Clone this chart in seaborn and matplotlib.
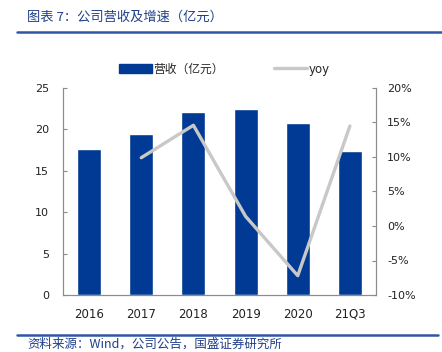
import matplotlib
matplotlib.use('Agg')
import matplotlib.pyplot as plt
import seaborn as sns
import pandas as pd
from matplotlib.lines import Line2D
from matplotlib.patches import Patch
from matplotlib.ticker import FuncFormatter, FixedLocator

# ==== data ====
years = ['2016', '2017', '2018', '2019', '2020', '21Q3']
revenue = [17.6, 19.4, 22.1, 22.5, 20.8, 17.4]
yoy_years = ['2017', '2018', '2019', '2020', '21Q3']
yoy = [9.9, 14.6, 1.4, -7.2, 14.5]

title_text = '图表 7：公司营收及增速（亿元）'
source_text = '资料来源：Wind，公司公告，国盛证券研究所'

sns.set_style('white')
plt.rcParams['font.family'] = ['DejaVu Sans', 'Noto Sans CJK SC']

bar_color = '#003A94'
line_color = '#C8C8C8'
text_blue = '#1F3F8A'

df_rev = pd.DataFrame({'year': years, 'revenue': revenue})
df_yoy = pd.DataFrame({'year': yoy_years, 'yoy': yoy})

fig = plt.figure(figsize=(4.42, 3.52), dpi=100)
ax = fig.add_axes([63 / 442, 1 - 295 / 352, 313 / 442, 207 / 352])

sns.barplot(data=df_rev, x='year', y='revenue', color=bar_color, width=0.46,
            saturation=1, ax=ax)
ax.set_xlim(-0.5, 5.5)
ax.set_ylim(0, 25)
ax.set_yticks([0, 5, 10, 15, 20, 25])
ax.set_xlabel('')
ax.set_ylabel('')

ax2 = ax.twinx()
sns.lineplot(data=df_yoy, x='year', y='yoy', color=line_color, linewidth=2.4,
             ax=ax2, sort=False)
ax2.set_ylim(-10, 20)
ax2.set_yticks([-10, -5, 0, 5, 10, 15, 20])
ax2.yaxis.set_major_formatter(FuncFormatter(lambda v, p: f'{v:.0f}%'))
ax2.set_ylabel('')
ax2.set_xlim(-0.5, 5.5)

spine_c = '#8C8C8C'
for a in (ax, ax2):
    a.spines['top'].set_visible(False)
    for s in ('left', 'right', 'bottom'):
        a.spines[s].set_color(spine_c)
        a.spines[s].set_linewidth(0.8)
    a.tick_params(axis='y', direction='in', length=3, color=spine_c,
                  labelsize=8, labelcolor='#222222')

ax.xaxis.set_minor_locator(FixedLocator([i + 0.5 for i in range(-1, 6)]))
ax.tick_params(axis='x', which='major', length=0, labelsize=8.5,
               labelcolor='#222222', pad=9)
ax.tick_params(axis='x', which='minor', direction='in', length=3, color=spine_c)
ax.tick_params(axis='y', pad=10)
ax2.tick_params(axis='y', pad=8)

# legend
handles = [Patch(facecolor=bar_color, edgecolor=bar_color),
           Line2D([0], [0], color=line_color, linewidth=2.4)]
fig.legend(handles, ['营收（亿元）', 'yoy'], loc='center',
           bbox_to_anchor=(0.507, 1 - 69 / 352), ncol=2, frameon=False,
           fontsize=8.5, handlelength=2.8, handleheight=0.9, columnspacing=4.2,
           handletextpad=0.15)

# title & source
fig.text(27 / 442, 1 - 17 / 352, title_text, fontsize=9.5, color=text_blue,
         style='italic', va='center', ha='left',
         family=['Noto Sans CJK SC', 'DejaVu Sans'])
fig.add_artist(Line2D([17 / 442, 1.0], [1 - 32 / 352] * 2, color='#2E57A6',
                      linewidth=1.8))
fig.add_artist(Line2D([17 / 442, 438 / 442], [1 - 335 / 352] * 2,
                      color='#2E57A6', linewidth=1.8))
fig.text(27 / 442, 1 - 344 / 352, source_text, fontsize=9, color=text_blue,
         style='italic', va='center', ha='left',
         family=['Noto Sans CJK SC', 'DejaVu Sans'])

fig.savefig('out.png', dpi=100)
